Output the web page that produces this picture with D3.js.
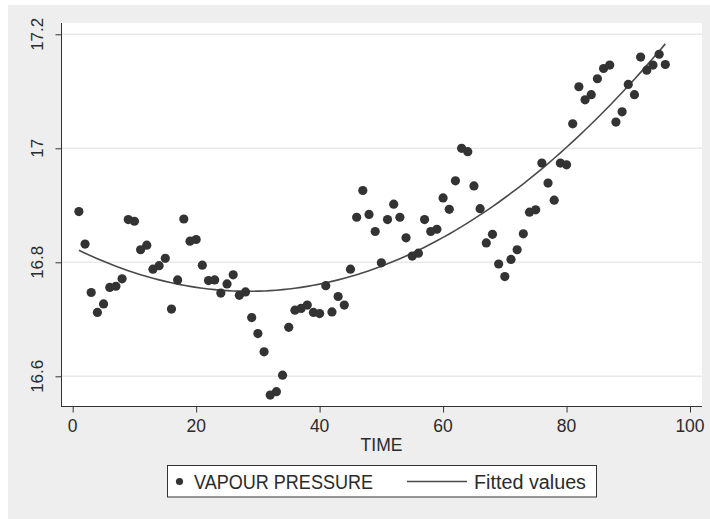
<!DOCTYPE html>
<html>
<head>
<meta charset="utf-8">
<script src="https://cdn.jsdelivr.net/npm/d3@7"></script>
<style>
  html, body { margin: 0; padding: 0; background: #ffffff; }
  svg { display: block; font-family: "Liberation Sans", Arial, sans-serif; }
</style>
</head>
<body>
<svg id="chart" width="710" height="519"></svg>
<script>
// ---- data ----
const time = [1,2,3,4,5,6,7,8,9,10,11,12,13,14,15,16,17,18,19,20,21,22,23,24,25,26,27,28,29,30,31,32,33,34,35,36,37,38,39,40,41,42,43,44,45,46,47,48,49,50,51,52,53,54,55,56,57,58,59,60,61,62,63,64,65,66,67,68,69,70,71,72,73,74,75,76,77,78,79,80,81,82,83,84,85,86,87,88,89,90,91,92,93,94,95,96];
const vapourPressure = [
  16.889,16.832,16.747,16.712,16.727,16.756,16.758,16.771,16.875,16.872,
  16.822,16.830,16.788,16.794,16.807,16.718,16.769,16.876,16.837,16.840,
  16.795,16.768,16.769,16.746,16.762,16.778,16.742,16.748,16.703,16.675,
  16.643,16.567,16.573,16.602,16.686,16.716,16.719,16.725,16.712,16.710,
  16.759,16.713,16.740,16.725,16.788,16.879,16.926,16.884,16.854,16.799,
  16.875,16.902,16.879,16.843,16.811,16.816,16.875,16.854,16.858,16.913,
  16.893,16.943,17.000,16.994,16.934,16.894,16.834,16.849,16.797,16.775,
  16.805,16.822,16.850,16.888,16.892,16.974,16.939,16.909,16.974,16.971,
  17.043,17.108,17.085,17.094,17.122,17.140,17.146,17.046,17.064,17.112,
  17.094,17.160,17.137,17.146,17.165,17.147
];
const xTicks = [0, 20, 40, 60, 80, 100];
const yTicks = [16.6, 16.8, 17, 17.2];
const xTitle = "TIME";
const legendLabels = ["VAPOUR PRESSURE", "Fitted values"];

// ---- quadratic least-squares fit (Stata qfit) ----
function qfit(xs, ys) {
  const n = xs.length;
  let s = [0,0,0,0,0], t = [0,0,0];
  for (let i = 0; i < n; i++) {
    const x = xs[i], y = ys[i];
    let p = 1;
    for (let k = 0; k <= 4; k++) { s[k] += p; if (k <= 2) t[k] += p * y; p *= x; }
  }
  const A = [[s[0], s[1], s[2], t[0]], [s[1], s[2], s[3], t[1]], [s[2], s[3], s[4], t[2]]];
  for (let c = 0; c < 3; c++) {
    let piv = c;
    for (let r = c + 1; r < 3; r++) if (Math.abs(A[r][c]) > Math.abs(A[piv][c])) piv = r;
    [A[c], A[piv]] = [A[piv], A[c]];
    for (let r = 0; r < 3; r++) {
      if (r === c) continue;
      const f = A[r][c] / A[c][c];
      for (let k = c; k < 4; k++) A[r][k] -= f * A[c][k];
    }
  }
  return [A[0][3] / A[0][0], A[1][3] / A[1][1], A[2][3] / A[2][2]];
}
const coef = qfit(time, vapourPressure);
const fitted = time.map(t => coef[0] + coef[1] * t + coef[2] * t * t);

// ---- layout ----
const svg = d3.select("#chart");
const plot = { left: 61, right: 702, top: 23, bottom: 407 };
const x = d3.scaleLinear().domain([0, 100]).range([72.7, 690]);
const y = d3.scaleLinear().domain([16.6, 17.2]).range([376.3, 34.3]);
const textCol = "#2b2b2b";

// outer graph region
svg.append("rect").attr("x", 8).attr("y", 5).attr("width", 702).attr("height", 514)
  .attr("fill", "#eeeeee");
// plot region
svg.append("rect").attr("x", plot.left).attr("y", plot.top)
  .attr("width", plot.right - plot.left).attr("height", plot.bottom - plot.top)
  .attr("fill", "#ffffff");

// gridlines
svg.append("g").selectAll("line").data(yTicks).join("line")
  .attr("x1", plot.left).attr("x2", plot.right)
  .attr("y1", d => y(d)).attr("y2", d => y(d))
  .attr("stroke", "#e9e9e9").attr("stroke-width", 1.5);

// y axis
const yAxis = d3.axisLeft(y).tickValues(yTicks).tickSize(6).tickPadding(0)
  .tickFormat(d => d3.format("")(d));
const gy = svg.append("g").attr("transform", `translate(${plot.left + 0.5},0)`).call(yAxis);
gy.select(".domain").attr("d", `M0,${plot.top}V${plot.bottom}`).attr("stroke", "#333");
gy.selectAll(".tick line").attr("stroke", "#333");
gy.selectAll(".tick text").remove();
svg.append("g").selectAll("text").data(yTicks).join("text")
  .attr("transform", d => `translate(42.5,${y(d)}) rotate(-90)`)
  .attr("text-anchor", "middle")
  .attr("font-size", 17).attr("fill", textCol)
  .text(d => d3.format("")(d));

// x axis
const xAxis = d3.axisBottom(x).tickValues(xTicks).tickSize(6).tickPadding(0).tickFormat(d => d);
const gx = svg.append("g").attr("transform", `translate(0,${plot.bottom - 0.5})`).call(xAxis);
gx.select(".domain").attr("d", `M${plot.left},0H${plot.right}`).attr("stroke", "#333");
gx.selectAll(".tick line").attr("stroke", "#333");
gx.selectAll(".tick text").remove();
svg.append("g").selectAll("text").data(xTicks).join("text")
  .attr("x", d => x(d)).attr("y", 431.5)
  .attr("text-anchor", "middle").attr("font-size", 17.5).attr("fill", textCol)
  .text(d => d);

svg.append("text").attr("x", (plot.left + plot.right) / 2).attr("y", 450.5)
  .attr("text-anchor", "middle").attr("font-size", 17.5).attr("fill", textCol)
  .text(xTitle);

// fitted line
svg.append("path")
  .datum(time.map((t, i) => [t, fitted[i]]))
  .attr("d", d3.line().x(d => x(d[0])).y(d => y(d[1])).curve(d3.curveMonotoneX))
  .attr("fill", "none").attr("stroke", "#4a4a4a").attr("stroke-width", 1.6);

// points
svg.append("g").selectAll("circle").data(time.map((t, i) => [t, vapourPressure[i]])).join("circle")
  .attr("cx", d => x(d[0])).attr("cy", d => y(d[1])).attr("r", 4.6)
  .attr("fill", "#333333");

// legend
const lg = svg.append("g");
lg.append("rect").attr("x", 167.5).attr("y", 465.5).attr("width", 429).attr("height", 31.5)
  .attr("fill", "#ffffff").attr("stroke", "#333").attr("stroke-width", 1);
lg.append("circle").attr("cx", 179.5).attr("cy", 481.5).attr("r", 3.6).attr("fill", "#333");
lg.append("text").attr("x", 194).attr("y", 489).attr("font-size", 19.5).attr("fill", textCol)
  .attr("textLength", 179).attr("lengthAdjust", "spacingAndGlyphs")
  .text(legendLabels[0]);
lg.append("line").attr("x1", 407).attr("x2", 467).attr("y1", 481.5).attr("y2", 481.5)
  .attr("stroke", "#4a4a4a").attr("stroke-width", 1.6);
lg.append("text").attr("x", 474).attr("y", 489).attr("font-size", 19.5).attr("fill", textCol)
  .attr("textLength", 112).attr("lengthAdjust", "spacingAndGlyphs")
  .text(legendLabels[1]);
</script>
</body>
</html>
